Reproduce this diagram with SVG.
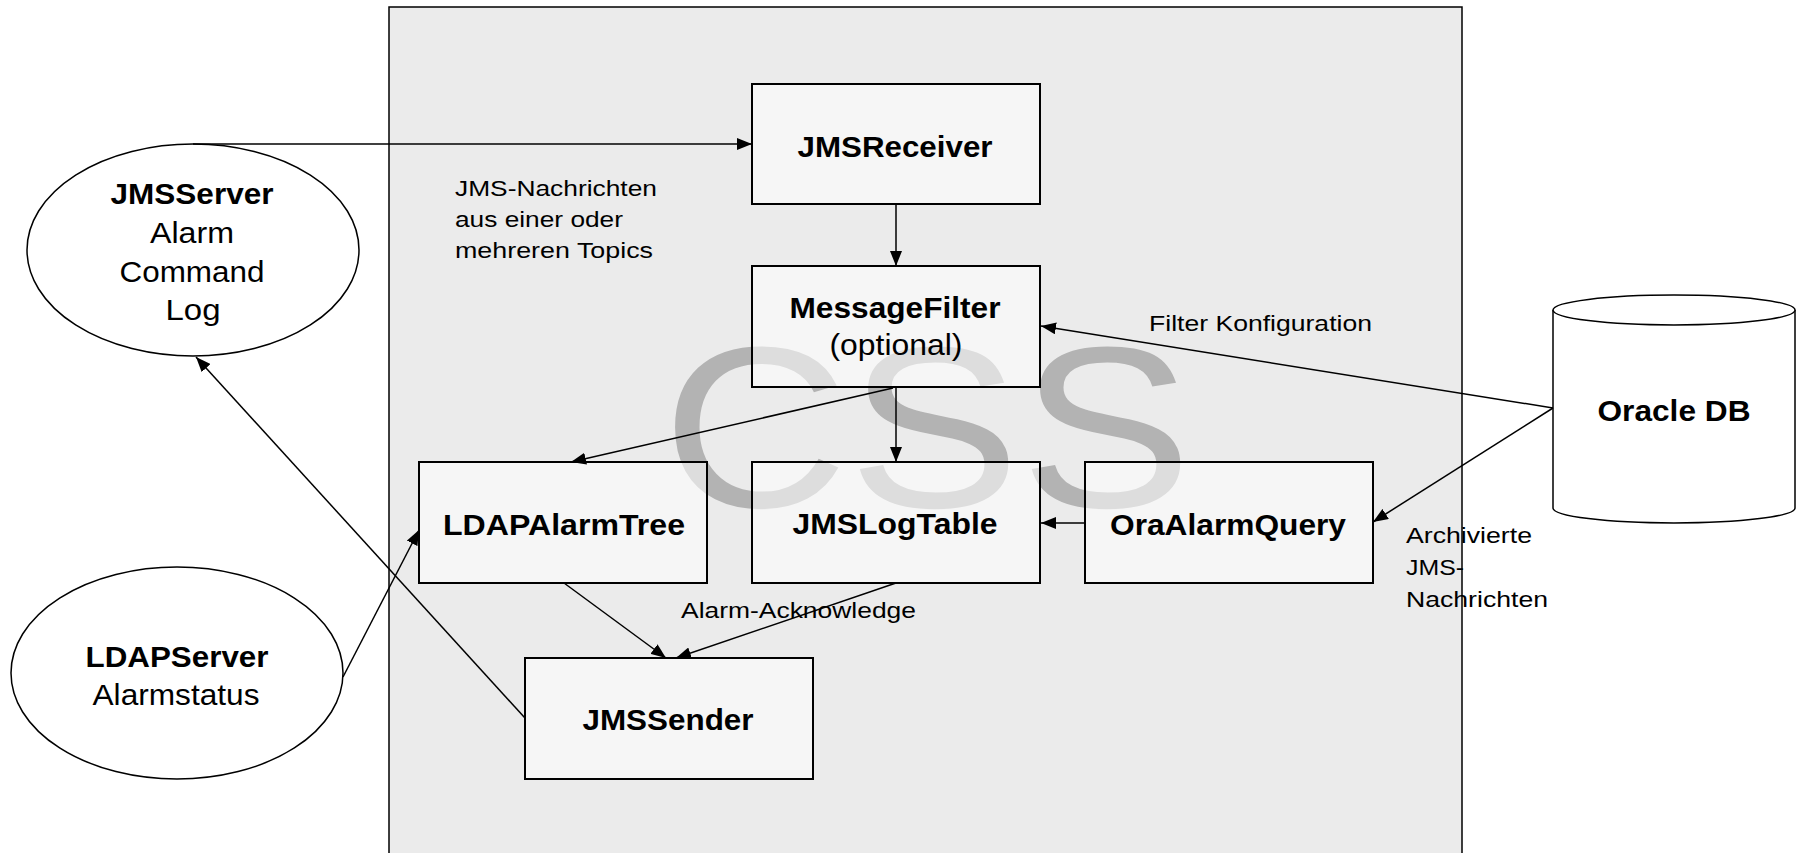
<svg xmlns="http://www.w3.org/2000/svg" width="1799" height="853" viewBox="0 0 1799 853">
<style>
.bg{fill:#ebebeb;stroke:#000;stroke-width:1.5}
.box{fill:#fff;fill-opacity:0.55;stroke:#000;stroke-width:2}
.ell{fill:#fff;stroke:#000;stroke-width:1.5}
.t{font-family:"Liberation Sans",Arial,sans-serif;fill:#000}
.b{font-weight:bold;font-size:29px}
.n{font-size:29px}
.l{font-size:22.5px}
.wm{font-family:"Liberation Sans",Arial,sans-serif;font-size:230px;fill:#b3b3b3}
.c line{stroke:#000;stroke-width:1.5;marker-end:url(#ah)}
</style>
<defs>
<marker id="ah" markerUnits="userSpaceOnUse" markerWidth="15" markerHeight="12" refX="15" refY="6" orient="auto">
<path d="M0,0 L15,6 L0,12 z" fill="#000"/>
</marker>
</defs>
<rect class="bg" x="389" y="7" width="1073" height="860"/>
<text class="wm" x="662" y="507" textLength="530" lengthAdjust="spacingAndGlyphs">CSS</text>

<g id="jmsserver">
<ellipse class="ell" cx="193" cy="250" rx="166" ry="106"/>
<text class="t b" x="192" y="204" text-anchor="middle" textLength="163" lengthAdjust="spacingAndGlyphs">JMSServer</text>
<text class="t n" x="192" y="243" text-anchor="middle" textLength="84" lengthAdjust="spacingAndGlyphs">Alarm</text>
<text class="t n" x="192" y="282" text-anchor="middle" textLength="145" lengthAdjust="spacingAndGlyphs">Command</text>
<text class="t n" x="193" y="320" text-anchor="middle" textLength="55" lengthAdjust="spacingAndGlyphs">Log</text>
</g>
<g id="ldapserver">
<ellipse class="ell" cx="177" cy="673" rx="166" ry="106"/>
<text class="t b" x="177" y="667" text-anchor="middle" textLength="183" lengthAdjust="spacingAndGlyphs">LDAPServer</text>
<text class="t n" x="176" y="705" text-anchor="middle" textLength="167" lengthAdjust="spacingAndGlyphs">Alarmstatus</text>
</g>
<g id="oracledb">
<path class="ell" d="M1553,310 L1553,508 A121,15 0 0 0 1795,508 L1795,310"/>
<ellipse class="ell" cx="1674" cy="310" rx="121" ry="15"/>
<text class="t b" x="1674" y="421" text-anchor="middle" textLength="153" lengthAdjust="spacingAndGlyphs">Oracle DB</text>
</g>
<g id="jmsreceiver">
<rect class="box" x="752" y="84" width="288" height="120"/>
<text class="t b" x="895" y="157" text-anchor="middle" textLength="195" lengthAdjust="spacingAndGlyphs">JMSReceiver</text>
</g>
<g id="messagefilter">
<rect class="box" x="752" y="266" width="288" height="121"/>
<text class="t b" x="895" y="318" text-anchor="middle" textLength="211" lengthAdjust="spacingAndGlyphs">MessageFilter</text>
<text class="t n" x="896" y="355" text-anchor="middle" textLength="133" lengthAdjust="spacingAndGlyphs">(optional)</text>
</g>
<g id="ldapalarmtree">
<rect class="box" x="419" y="462" width="288" height="121"/>
<text class="t b" x="564" y="535" text-anchor="middle" textLength="242" lengthAdjust="spacingAndGlyphs">LDAPAlarmTree</text>
</g>
<g id="jmslogtable">
<rect class="box" x="752" y="462" width="288" height="121"/>
<text class="t b" x="895" y="534" text-anchor="middle" textLength="205" lengthAdjust="spacingAndGlyphs">JMSLogTable</text>
</g>
<g id="oraalarmquery">
<rect class="box" x="1085" y="462" width="288" height="121"/>
<text class="t b" x="1228" y="535" text-anchor="middle" textLength="236" lengthAdjust="spacingAndGlyphs">OraAlarmQuery</text>
</g>
<g id="jmssender">
<rect class="box" x="525" y="658" width="288" height="121"/>
<text class="t b" x="668" y="730" text-anchor="middle" textLength="171" lengthAdjust="spacingAndGlyphs">JMSSender</text>
</g>

<g id="connectors" class="c">
<line x1="193" y1="144" x2="752" y2="144"/>
<line x1="896" y1="204" x2="896" y2="266"/>
<line x1="893" y1="388" x2="571" y2="462"/>
<line x1="896" y1="387" x2="896" y2="462"/>
<line x1="1553" y1="408" x2="1041" y2="326"/>
<line x1="1553" y1="408" x2="1373" y2="522"/>
<line x1="1085" y1="523" x2="1041" y2="523"/>
<line x1="564" y1="583" x2="666" y2="658"/>
<line x1="896" y1="583" x2="676" y2="658"/>
<line x1="525" y1="718" x2="196" y2="357"/>
<line x1="343" y1="677" x2="419" y2="530"/>
</g>

<g id="labels">
<text class="t l" x="455" y="196" textLength="202" lengthAdjust="spacingAndGlyphs">JMS-Nachrichten</text>
<text class="t l" x="455" y="227" textLength="168" lengthAdjust="spacingAndGlyphs">aus einer oder</text>
<text class="t l" x="455" y="258" textLength="198" lengthAdjust="spacingAndGlyphs">mehreren Topics</text>
<text class="t l" x="1149" y="331" textLength="223" lengthAdjust="spacingAndGlyphs">Filter Konfiguration</text>
<text class="t l" x="681" y="618" textLength="235" lengthAdjust="spacingAndGlyphs">Alarm-Acknowledge</text>
<text class="t l" x="1406" y="543" textLength="126" lengthAdjust="spacingAndGlyphs">Archivierte</text>
<text class="t l" x="1406" y="575" textLength="58" lengthAdjust="spacingAndGlyphs">JMS-</text>
<text class="t l" x="1406" y="607" textLength="142" lengthAdjust="spacingAndGlyphs">Nachrichten</text>
</g>
</svg>
